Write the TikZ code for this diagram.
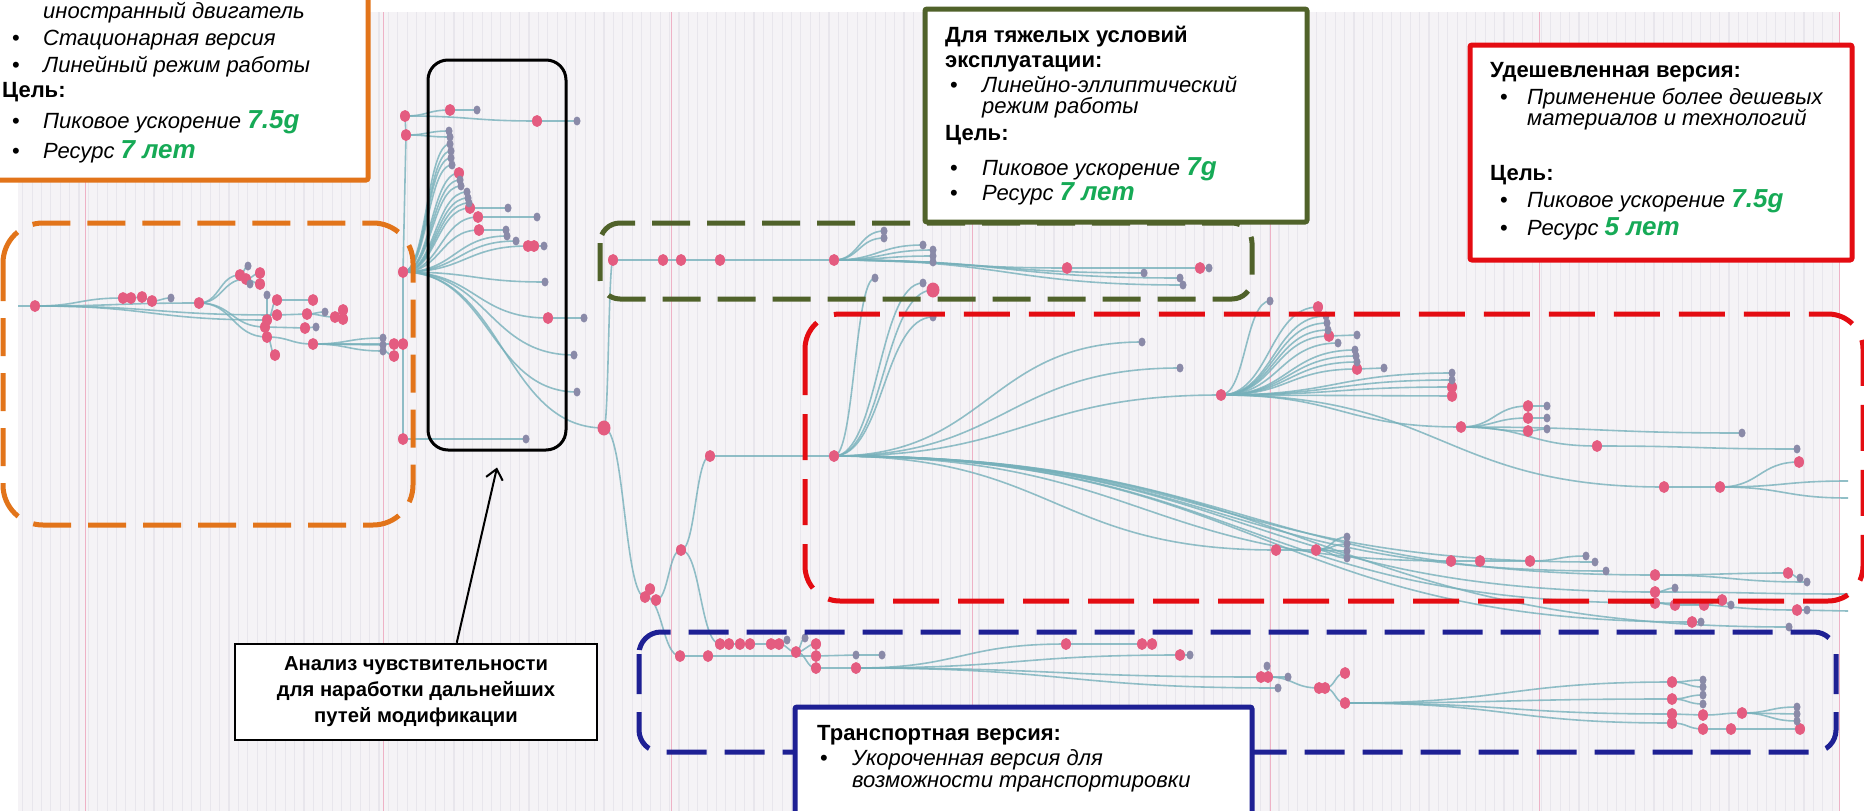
\documentclass[tikz,border=0pt]{standalone}
\usepackage{fontspec}
\setmainfont{Liberation Sans}
\usetikzlibrary{calc,shapes.geometric,arrows.meta}

\definecolor{chartbg}{RGB}{245,243,246}
\definecolor{stripe}{RGB}{232,230,236}
\definecolor{majorline}{RGB}{238,178,198}
\definecolor{linkcol}{RGB}{118,176,186}
\definecolor{nodepink}{RGB}{228,92,128}
\definecolor{nodegray}{RGB}{138,138,168}
\definecolor{orangeC}{RGB}{226,116,26}
\definecolor{oliveC}{RGB}{80,98,42}
\definecolor{redC}{RGB}{228,12,18}
\definecolor{navyC}{RGB}{30,32,148}
\definecolor{goalgreen}{RGB}{22,170,86}

\pgfdeclarelayer{grid}
\pgfdeclarelayer{edges}
\pgfsetlayers{grid,edges,main}

% horizontal tree link between two named nodes
\newcommand\treelink[2]{\draw[br] let \p1=(#1.center), \p2=(#2.center) in
  (\p1) .. controls ({0.5*\x1+0.5*\x2},\y1) and ({0.5*\x1+0.5*\x2},\y2) .. (\p2);}
\newcommand\goal[1]{{\fontsize{26}{26}\selectfont\bfseries\itshape\color{goalgreen}#1}}

\tikzset{
  br/.style={draw=linkcol, line width=1.6pt, opacity=0.8},
  pn/.style={ellipse, fill=nodepink, minimum width=10pt, minimum height=12pt, inner sep=0pt},
  pnbig/.style={ellipse, fill=nodepink, minimum width=13pt, minimum height=15pt, inner sep=0pt},
  gn/.style={ellipse, fill=nodegray, minimum width=7pt, minimum height=9pt, inner sep=0pt},
  txt/.style={anchor=base west, inner sep=0pt, font=\fontsize{22}{26}\selectfont},
  itx/.style={txt, font=\fontsize{22}{26}\selectfont\itshape},
  bfx/.style={txt, font=\fontsize{22}{26}\selectfont\bfseries},
  dashbox/.style={line width=5pt, line cap=butt},
  solidbox/.style={line width=5pt, fill=white, rounded corners=2pt},
}

\begin{document}
\begin{tikzpicture}[x=1pt, y=-1pt]
\useasboundingbox (0,0) rectangle (1864,811);

% chart background with fine stripes and month lines
\begin{pgfonlayer}{grid}
  \fill[white] (0,0) rectangle (1864,811);
  \fill[chartbg] (18,12) rectangle (1839,811);
  \foreach \i in {0,...,193} \draw[stripe, line width=1.1pt] ({22.7+\i*9.375},12) -- ++(0,799);
  \foreach \xx in {85,383,671,972,1270,1539,1839} \draw[majorline, line width=1pt] (\xx,12) -- (\xx,811);
\end{pgfonlayer}

% tree nodes
\foreach \n/\px/\py in {p0/35/306, a1/123/298, a2/131/298, a3/142/297, a4/152/301, p1/199/303,
  b1/240/275, b2/246/279, b5/260/273, b6/260/284, q1/277/300, q2/313/300, q3/267/320, q4/277/315,
  q5/307/314, q7/335/317, q8/343/310, q9/343/319, q10/265/327, q11/305/328, q13/267/337, q14/313/344,
  q18/394/344, q19/394/356, q20/275/355, v1/405/116, v2/406/135, h/403/272, v3/403/344, v4/403/439,
  t1/450/110, t3/537/121, f7/459/173, f13/470/208, f14/478/217, f15/479/230, f18/528/246, f18b/534/246,
  f20/548/318, G0/613/260, g1/663/260, g2/681/260, g3/720/260, G/834/260, gm1/1067/268, gm2/1200/268,
  C1a/645/597, C1b/650/589, C1c/656/600, N1/681/550, N2/710/456, R/834/456,
  u1/720/644, u2/729/644, u3/740/644, u4/750/644, u5/771/644, u6/779/644, u8/796/652, u10/816/644,
  w1/680/656, w2/708/656, w3/816/656, w6/816/668, B/856/668,
  bb1/1066/644, bb2/1142/644, bb3/1152/644, bb4/1180/655, bb6/1261/677, bb7/1268/677, bb12/1319/688,
  bb13/1325/688, bb14/1345/673, B2/1345/703,
  e1/1672/682, e4/1672/699, e7/1672/714, e8/1703/715, e9/1742/713, e13/1672/723, e14/1703/729,
  e15/1731/729, e16/1800/729,
  R2/1221/395, s2/1318/307, s6/1329/336, s11/1357/369, s14/1452/387, s15/1452/396, R3/1461/427,
  s16/1664/487, s17/1720/487, s18/1799/462, t5/1528/406, t7/1528/418, t9/1528/431, t12/1597/446,
  L1/1276/550, L2/1316/550, L3/1451/561, L4/1480/561, L5/1530/561, L6/1655/575, L6a/1788/573,
  L7/1655/592, L8/1655/603, L8a/1675/605, L8b/1704/605, L8c/1722/600, L8e/1797/610, L9/1692/622}
  \node[pn] (\n) at (\px,\py) {};
\foreach \n/\px/\py in {T/604/428, r3/933/290}
  \node[pnbig] (\n) at (\px,\py) {};
\foreach \n/\px/\py in {a5/171/298, b3/248/266, b4/250/284, q0/267/295, q6/325/312, q12/316/327,
  q15/383/338, q16/383/345, q17/383/351, t2/477/110, t4/577/121, f1/449/131, f2/450/137, f3/450/144,
  f4/451/151, f5/451/158, f6/452/165, f8/460/180, f9/461/186, f10/467/192, f11/468/198, f12/469/203,
  f13b/508/208, f14b/537/217, f15b/506/230, f16/507/236, f17/516/241, f18c/544/246, f19/545/282,
  f20b/584/318, f21/574/355, f22/577/392, f23/526/439,
  gl1/884/231, gl2/884/238, gl3/923/245, gl4/933/250, gl5/933/256, gl6/933/262, gm3/1209/268,
  gm4/1144/273, gm5/1180/278, gm6/1183/285, u7/787/640, u9/805/638, w4/856/655, w5/882/655,
  bb5/1190/655, bb8/1288/677, bb9/1267/666, bb10/1278/688, e2/1703/680, e3/1703/687, e5/1703/695,
  e6/1703/704, e10/1797/707, e11/1797/714, e12/1797/721,
  r1/875/278, r2/923/283, r4/933/317, r5/1142/342, r6/1180/368,
  s1/1270/301, s3/1326/316, s4/1327/323, s5/1328/330, s6a/1357/335, s7/1338/343, s8/1355/350,
  s9/1356/356, s10/1357/362, s11a/1384/368, s12/1452/373, s13/1452/380,
  t6/1547/406, t8/1547/418, t10/1547/429, t11/1742/433, t13/1797/449,
  L2a/1347/537, L2b/1347/544, L2c/1347/551, L2d/1347/558, L5a/1586/556, L5b/1595/562, L5c/1606/571,
  L6b/1800/578, L6c/1807/582, L7a/1675/588, L8d/1731/605, L8f/1807/610, L9a/1701/622, L10/1789/627}
  \node[gn] (\n) at (\px,\py) {};
\coordinate (s0) at (18,306);
\coordinate (E1) at (1848,594);
\coordinate (E2) at (1848,611);
\coordinate (E3) at (1848,481);
\coordinate (E4) at (1848,498);

% tree links
\begin{pgfonlayer}{edges}
  \draw[br] (s0) -- (p0.center);
  \draw[br] (v1.center) -- (v2.center) -- (h.center) -- (v3.center) -- (v4.center);
  \foreach \a/\b in {p0/a1, a1/a2, a2/a3, a3/a4, a4/a5, p0/p1, p1/b1, b1/b3, p1/b2, b2/b5, b2/b6,
    b2/b4, p0/q3, q3/q0, q3/q1, q1/q2, p0/q4, q4/q5, q5/q6, q5/q7, q7/q8, q7/q9, p1/q10, q10/q11,
    q11/q12, p1/q13, q13/q14, q14/q15, q14/q16, q14/q17, q14/q18, q17/q19, q18/v3, q13/q20,
    v1/t1, t1/t2, v1/t3, t3/t4, v2/f1, v2/f2,
    h/f3, h/f4, h/f5, h/f6, h/f7, h/f8, h/f9, h/f10, h/f11, h/f12, h/f13, f13/f13b, h/f14, f14/f14b,
    h/f15, f15/f15b, h/f16, h/f17, h/f18, f18/f18b, f18b/f18c, h/f19, h/f20, f20/f20b, h/f21, h/f22,
    h/T, v4/f23,
    T/G0, G0/g1, g1/g2, g2/g3, g3/G, G/gl1, G/gl2, G/gl3, G/gl4, G/gl5, G/gl6, G/gm1, gm1/gm2,
    gm2/gm3, G/gm4, G/gm5, G/gm6,
    T/C1a, C1a/C1b, C1a/C1c, C1c/N1, N1/N2, N2/R, N1/u1, u1/u2, u2/u3, u3/u4, u4/u5, u5/u6, u6/u7,
    u6/u8, u8/u9, u8/u10, C1a/w1, w1/w2, w2/w3, w3/w4, w4/w5, u8/w6, w6/B,
    B/bb1, bb1/bb2, bb2/bb3, B/bb4, bb4/bb5, B/bb6, bb6/bb7, bb7/bb8, bb7/bb9, B/bb10, bb7/bb12,
    bb12/bb13, bb13/bb14, bb13/B2,
    B2/e1, e1/e2, e1/e3, B2/e4, e4/e5, e4/e6, B2/e7, e7/e8, e8/e9, e9/e10, e9/e11, e9/e12, B2/e13,
    e13/e14, e14/e15, e15/e16,
    R/r1, R/r2, R/r3, R/r4, R/r5, R/r6, R/R2, R/L1, L1/L2, L2/L2a, L2/L2b, L2/L2c, L2/L2d, R/L3,
    L3/L4, L4/L5, L5/L5a, R/L5b, R/L5c, R/L6, L6/L6a, L6a/L6b, L6/L6c, R/L7, L7/L7a, L7/E1, R/L8,
    L8/L8a, L8a/L8b, L8b/L8c, L8c/L8d, L8/L8e, L8e/L8f, L8e/E2, R/L9, L9/L9a, R/L10,
    R2/s1, R2/s2, R2/s3, R2/s4, R2/s5, R2/s6, s6/s6a, R2/s7, R2/s8, R2/s9, R2/s10, R2/s11, s11/s11a,
    R2/s12, R2/s13, R2/s14, R2/s15, R2/R3, R2/s16, s16/s17, s17/s18, s17/E3, s17/E4,
    R3/t5, t5/t6, R3/t7, t7/t8, R3/t9, t9/t10, R3/t11, R3/t12, t12/t13}
    {\treelink{\a}{\b}}
\end{pgfonlayer}

% dashed group frames
\draw[dashbox, orangeC, dash pattern=on 38pt off 17pt, rounded corners=40pt] (3,223) rectangle (413,525);
\draw[dashbox, oliveC, dash pattern=on 38pt off 17pt, rounded corners=20pt] (600,223) rectangle (1252,299);
\draw[dashbox, redC, dash pattern=on 46pt off 19pt, rounded corners=35pt] (805,314) rectangle (1863,601);
\draw[dashbox, navyC, dash pattern=on 40pt off 18pt, rounded corners=22pt] (639,632) rectangle (1836,752);

% sensitivity frame and its callout
\node[draw=black, line width=3pt, rounded corners=20pt, minimum width=138pt, minimum height=390pt,
  inner sep=0pt] (sens) at (497,255) {};
\node[draw=black, line width=2.5pt, fill=white, minimum width=362pt, minimum height=96pt,
  inner sep=0pt, align=center, font=\fontsize{20.2}{26}\selectfont\bfseries] (ann) at (416,692)
  {Анализ чувствительности\\для наработки дальнейших\\путей модификации};
\coordinate (tip) at ($(sens.south)+(0,16)$);
\draw[line width=2pt, -{Straight Barb[length=10pt,width=17pt,line width=2pt]}]
  ($(ann.north west)+(223,0)$) -- (tip);

% base version
\draw[solidbox, draw=orangeC] (-10,-10) rectangle (368,180);
\node[itx] (o1) at (43,18) {иностранный двигатель};
\node[txt] (ob2) at (12,45) {•};
\node[itx] (o2) at (43,45) {Стационарная версия};
\node[txt] (ob3) at (12,72) {•};
\node[itx] (o3) at (43,72) {Линейный режим работы};
\node[bfx] (o4) at (2,97) {Цель:};
\node[txt] (ob5) at (12,128) {•};
\node[itx] (o5) at (43,128) {Пиковое ускорение \goal{7.5g}};
\node[txt] (ob6) at (12,158) {•};
\node[itx] (o6) at (43,158) {Ресурс \goal{7 лет}};

% heavy-duty version
\draw[solidbox, draw=oliveC] (925,9) rectangle (1307,222);
\node[bfx] (k1) at (945,42) {Для тяжелых условий};
\node[bfx] (k2) at (945,67) {эксплуатации:};
\node[txt] (kb3) at (950,92) {•};
\node[itx] (k3) at (982,92) {Линейно-эллиптический};
\node[itx] (k4) at (982,113) {режим работы};
\node[bfx] (k5) at (945,140) {Цель:};
\node[txt] (kb6) at (950,175) {•};
\node[itx] (k6) at (982,175) {Пиковое ускорение \goal{7g}};
\node[txt] (kb7) at (950,200) {•};
\node[itx] (k7) at (982,200) {Ресурс \goal{7 лет}};

% low-cost version
\draw[solidbox, draw=redC] (1470,45) rectangle (1852,260);
\node[bfx] (m1) at (1490,77) {Удешевленная версия:};
\node[txt] (mb2) at (1500,104) {•};
\node[itx] (m2) at (1527,104) {Применение более дешевых};
\node[itx] (m3) at (1527,125) {материалов и технологий};
\node[bfx] (m4) at (1490,180) {Цель:};
\node[txt] (mb5) at (1500,207) {•};
\node[itx] (m5) at (1527,207) {Пиковое ускорение \goal{7.5g}};
\node[txt] (mb6) at (1500,235) {•};
\node[itx] (m6) at (1527,235) {Ресурс \goal{5 лет}};

% transport version
\draw[solidbox, draw=navyC] (795,707) rectangle (1252,840);
\node[bfx] (z1) at (817,740) {Транспортная версия:};
\node[txt] (zb2) at (820,765) {•};
\node[itx] (z2) at (852,765) {Укороченная версия для};
\node[itx] (z3) at (852,787) {возможности транспортировки};
\end{tikzpicture}
\end{document}
